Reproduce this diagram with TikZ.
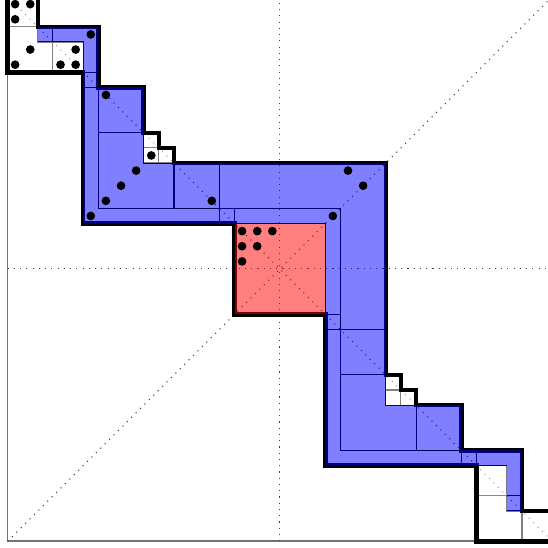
\documentclass[tikz,border=0pt]{standalone}
\usepackage{tikz}

% one half of the staircase band (the other half is its mirror image)
\newcommand{\halfband}[2]{%
    % white cells
    \path[#1] (0,0) rectangle (2,2);
    \path[#1] (0,2) -- (2,2) -- (2,3) -- (3,3) -- (3,5) -- (0,5) -- cycle;
    \path[#1] (3,3) rectangle (5,5);
    \path[#1] (9,9) rectangle (10,10);
    \path[#1] (9,10) rectangle (10,11);
    \path[#1] (10,10) rectangle (11,11);
    % blue cells
    \path[#2] (2,2) rectangle (3,3);
    \path[#2] (3,2) -- (6,2) -- (6,5) -- (5,5) -- (5,3) -- (3,3) -- cycle;
    \path[#2] (5,5) rectangle (6,6);
    \path[#2] (6,6) rectangle (9,9);
    \path[#2] (6,9) -- (9,9) -- (9,11) -- (11,11) -- (11,14) -- (6,14) -- cycle;
    \path[#2] (11,11) rectangle (14,14);
    \path[#2] (14,14) rectangle (15,15);
    \path[#2] (5,6) -- (6,6) -- (6,14) -- (14,14) -- (14,15) -- (5,15) -- cycle;
}

\begin{document}
\begin{tikzpicture}[
        x=0.4cm, y=-0.4cm,
        % thin borders of the cells
        cellline/.style={draw, line width=0.8pt},
        % thick border of the whole band
        bandline/.style={line width=3.4pt},
        % dotted helper lines
        guide/.style={draw=black!75, line width=0.8pt, dash pattern=on 0.8pt off 3.9pt},
        frameline/.style={draw=black!55, line width=1.3pt},
        bluecell/.style={fill=blue, fill opacity=.5},
        whitecell/.style={fill=white, fill opacity=.5},
        redcell/.style={fill=red, fill opacity=.5},
        token/.style={fill=black},
        mirrored/.style={cm={0,1,1,0,(36,36)}}
    ]

    \useasboundingbox (-0.5,0.225) rectangle (35.72,36.44);
    \clip (-0.5,0.225) rectangle (35.72,36.44);

    % --- 1. FRAME AND GUIDES ---
    \draw[frameline] (0,0) rectangle (36,36);
    \draw[guide] (18,0) -- (18,36);
    \draw[guide] (0,18) -- (36,18);
    \draw[guide] (0,36) -- (36,0);
    \draw[guide] (0,0) -- (36,36);

    % --- 2. CELL BORDERS ---
    \halfband{cellline}{cellline}
    \begin{scope}[mirrored]
        \halfband{cellline}{cellline}
    \end{scope}
    \path[cellline] (14,11) -- (25,11) -- (25,22) -- (22,22) -- (22,14) -- (14,14) -- cycle;
    \path[cellline] (15,14) -- (22,14) -- (22,21) -- (21,21) -- (21,15) -- (15,15) -- cycle;
    \path[cellline] (15,15) rectangle (21,21);

    % --- 3. WHITE CELLS, OUTLINE, COLOURED CELLS ---
    \halfband{whitecell}{}
    \begin{scope}[mirrored]
        \halfband{whitecell}{}
    \end{scope}

    \draw[bandline] (0,0) -- (0,5) -- (5,5) -- (5,15) -- (15,15) -- (15,21) -- (21,21)
        -- (21,31) -- (31,31) -- (31,36) -- (36,36) -- (36,34) -- (34,34) -- (34,30)
        -- (30,30) -- (30,27) -- (27,27) -- (27,26) -- (26,26) -- (26,25) -- (25,25)
        -- (25,11) -- (11,11) -- (11,10) -- (10,10) -- (10,9) -- (9,9) -- (9,6)
        -- (6,6) -- (6,2) -- (2,2) -- (2,0) -- cycle;

    \halfband{}{bluecell}
    \begin{scope}[mirrored]
        \halfband{}{bluecell}
    \end{scope}
    \path[bluecell] (14,11) -- (25,11) -- (25,22) -- (22,22) -- (22,14) -- (14,14) -- cycle;
    \path[bluecell] (15,14) -- (22,14) -- (22,21) -- (21,21) -- (21,15) -- (15,15) -- cycle;
    \path[redcell] (15,15) rectangle (21,21);

    % --- 4. DOTS ---
    \foreach \x/\y in {0.5/0.5, 1.5/0.5, 0.5/1.5, 1.5/3.5, 0.5/4.5, 4.5/3.5, 3.5/4.5, 4.5/4.5,
        5.5/2.5, 6.5/6.5, 9.5/10.5, 8.5/11.5, 7.5/12.5, 6.5/13.5, 13.5/13.5, 5.5/14.5,
        22.5/11.5, 23.5/12.5, 21.5/14.5,
        15.5/15.5, 16.5/15.5, 17.5/15.5, 15.5/16.5, 16.5/16.5, 15.5/17.5}
        \fill[token] (\x,\y) circle (1.15mm);

\end{tikzpicture}
\end{document}
